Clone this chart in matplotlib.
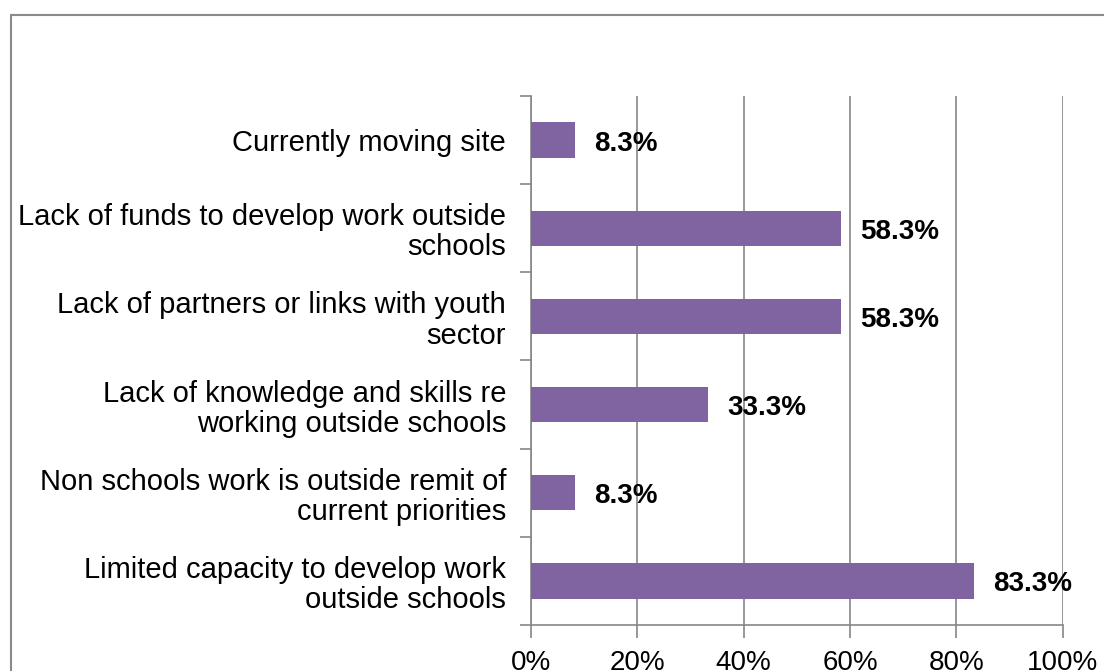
import numpy as np
import matplotlib.pyplot as plt
from matplotlib.patches import Rectangle
from matplotlib.ticker import FixedLocator

plt.rcParams['font.family'] = ['Liberation Sans', 'DejaVu Sans']

categories = [
    "Currently moving site",
    "Lack of funds to develop work outside\nschools",
    "Lack of partners or links with youth\nsector",
    "Lack of knowledge and skills re\nworking outside schools",
    "Non schools work is outside remit of\ncurrent priorities",
    "Limited capacity to develop work\noutside schools",
]
values = [8.3, 58.3, 58.3, 33.3, 8.3, 83.3]
x_ticks = [0, 20, 40, 60, 80, 100]
x_tick_labels = ["0%", "20%", "40%", "60%", "80%", "100%"]

bar_color = "#8064A2"
axis_gray = "#868686"

fig = plt.figure(figsize=(11.04, 6.71), dpi=100)
ax = fig.add_axes([0.481, 0.0686, 0.4815, 0.7884])

# outer chart border (runs off the right and bottom edges)
fig.patches.append(Rectangle((0.0104, -0.2), 1.5, 0.9776 + 0.2,
                             transform=fig.transFigure, fill=False,
                             edgecolor="#8a8a8a", linewidth=1.5, zorder=0))

n = len(categories)
pos = np.arange(n)[::-1]
ax.barh(pos, values, height=0.4, color=bar_color, zorder=3)

for p, v in zip(pos, values):
    ax.annotate(f"{v:.1f}%", xy=(v, p), xytext=(14, -2.5), textcoords="offset points",
                ha="left", va="center", fontsize=20, fontweight="bold", zorder=4)

ax.set_xlim(0, 100)
ax.set_ylim(-0.5, n - 0.5)
ax.set_xticks(x_ticks)
ax.set_xticklabels(x_tick_labels, fontsize=20)
ax.set_yticks(pos)
ax.set_yticklabels(categories, fontsize=21, linespacing=1.1, ha="right")
ax.yaxis.set_minor_locator(FixedLocator(np.arange(-0.5, n, 1.0)))

ax.tick_params(axis="y", which="major", length=0, pad=18)
ax.tick_params(axis="y", which="minor", length=8, color=axis_gray, width=1.2)
ax.tick_params(axis="x", which="major", length=9, color=axis_gray, width=1.2, pad=9)

ax.grid(axis="x", color=axis_gray, linewidth=1.2, zorder=0)
ax.set_axisbelow(True)
for side in ("top", "right"):
    ax.spines[side].set_visible(False)
for side in ("left", "bottom"):
    ax.spines[side].set_color(axis_gray)
    ax.spines[side].set_linewidth(1.2)

fig.savefig("out.png", dpi=100)
